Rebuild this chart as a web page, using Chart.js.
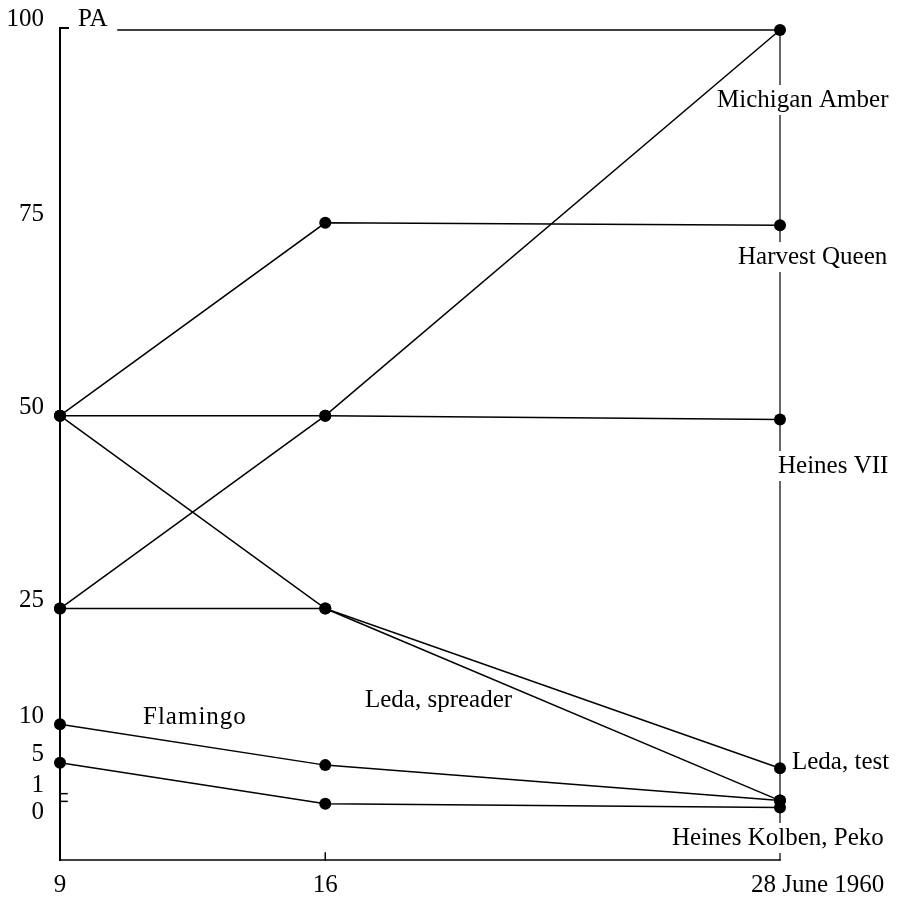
<!DOCTYPE html>
<html>
<head>
<meta charset="utf-8">
<script src="https://cdn.jsdelivr.net/npm/chart.js@4.4.1/dist/chart.umd.min.js"></script>
<style>
  body { margin: 0; background: #fff; }
</style>
</head>
<body>
<canvas id="myChart" width="900" height="906"></canvas>
<script>
// dates in June 1960 and PA values
const days = [9, 16, 28];
const dayLabels = ["9", "16", "28 June 1960"];
const yTicks = [100, 75, 50, 25, 10, 5, 1, 0];

const michiganAmber = [25, 50, 100];
const harvestQueen = [50, 75, 74.7];
const heinesVII = [50, 50, 49.5];
const ledaTest = [25, 25, 4.3];
const ledaSpreader = [50, 25, 0.1];
const flamingo = [10, 4.7, 0.1];
const heinesKolbenPeko = [5, -0.3, -0.8];

const seriesNames = ["Michigan Amber", "Harvest Queen", "Heines VII", "Leda, test", "Leda, spreader", "Flamingo", "Heines Kolben, Peko"];
const seriesValues = [michiganAmber, harvestQueen, heinesVII, ledaTest, ledaSpreader, flamingo, heinesKolbenPeko];

const FONT = '25px "Liberation Serif", "Times New Roman", serif';

function line(ctx, x1, y1, x2, y2) {
    ctx.beginPath();
    ctx.moveTo(x1, y1);
    ctx.lineTo(x2, y2);
    ctx.stroke();
}

// text with a white box behind it, so it breaks the frame line like the original
function note(ctx, text, x, y) {
    let w = ctx.measureText(text).width;
    ctx.fillStyle = '#fff';
    ctx.fillRect(x - 3, y - 15, w + 6, 30);
    ctx.fillStyle = '#000';
    ctx.fillText(text, x, y);
}

const framePlugin = {
    id: 'frame',
    beforeDatasetsDraw(chart) {
        const ctx = chart.ctx;
        const { left, right, top, bottom } = chart.chartArea;
        const xs = chart.scales.x, ys = chart.scales.y;

        ctx.save();
        ctx.strokeStyle = '#000';
        ctx.lineCap = 'square';

        // left axis with little corner at top
        ctx.lineWidth = 2;
        line(ctx, left, top - 2, left, bottom);
        line(ctx, left, top - 2, left + 8, top - 2);
        // ticks at 1 and 0
        ctx.lineWidth = 1.5;
        line(ctx, left, ys.getPixelForValue(1), left + 7, ys.getPixelForValue(1));
        line(ctx, left, ys.getPixelForValue(0), left + 7, ys.getPixelForValue(0));

        // top, right and bottom of the frame
        ctx.lineWidth = 1.5;
        line(ctx, 118, ys.getPixelForValue(100), right, ys.getPixelForValue(100));
        ctx.lineWidth = 1.2;
        line(ctx, right, top, right, bottom);
        ctx.lineWidth = 1.5;
        line(ctx, left, bottom, right, bottom);
        line(ctx, xs.getPixelForValue(16), bottom, xs.getPixelForValue(16), bottom - 7);

        ctx.font = FONT;
        ctx.fillStyle = '#000';
        ctx.textBaseline = 'middle';

        // y tick labels
        ctx.textAlign = 'right';
        yTicks.forEach((v) => {
            let shift = v === 100 ? -11 : v === 0 ? 11 : -8;
            ctx.fillText(String(v), 44, ys.getPixelForValue(v) + shift);
        });

        // x tick labels
        ctx.textAlign = 'center';
        ctx.fillText(dayLabels[0], xs.getPixelForValue(days[0]), 885);
        ctx.fillText(dayLabels[1], xs.getPixelForValue(days[1]), 885);
        ctx.textAlign = 'left';
        ctx.fillText(dayLabels[2], 751, 885);

        ctx.fillText('PA', 78, 19);

        // variety names
        note(ctx, seriesNames[0], 717, 100);
        note(ctx, seriesNames[1], 738, 257);
        note(ctx, seriesNames[2], 778, 466);
        note(ctx, seriesNames[3], 792, 762);
        note(ctx, seriesNames[4], 365, 700);
        ctx.save();
        ctx.letterSpacing = '1px';
        note(ctx, seriesNames[5], 143, 717);
        ctx.restore();
        note(ctx, seriesNames[6], 672, 838);

        ctx.restore();
    }
};

const ctx = document.getElementById('myChart');

new Chart(ctx, {
    type: 'line',
    data: {
        datasets: seriesValues.map((vals, i) => ({
            label: seriesNames[i],
            data: days.map((d, j) => ({ x: d, y: vals[j] })),
            borderColor: '#000',
            borderWidth: 1.5,
            backgroundColor: '#000',
            pointBackgroundColor: '#000',
            pointBorderWidth: 0,
            pointRadius: 6,
            tension: 0,
            fill: false,
            clip: false
        }))
    },
    options: {
        responsive: false,
        animation: false,
        layout: {
            padding: { left: 60, right: 120, top: 30, bottom: 46 }
        },
        plugins: {
            legend: { display: false },
            tooltip: { enabled: false }
        },
        scales: {
            x: { type: 'linear', min: 9, max: 28, display: false },
            y: { type: 'linear', min: -7.6, max: 100, display: false }
        }
    },
    plugins: [framePlugin]
});
</script>
</body>
</html>
